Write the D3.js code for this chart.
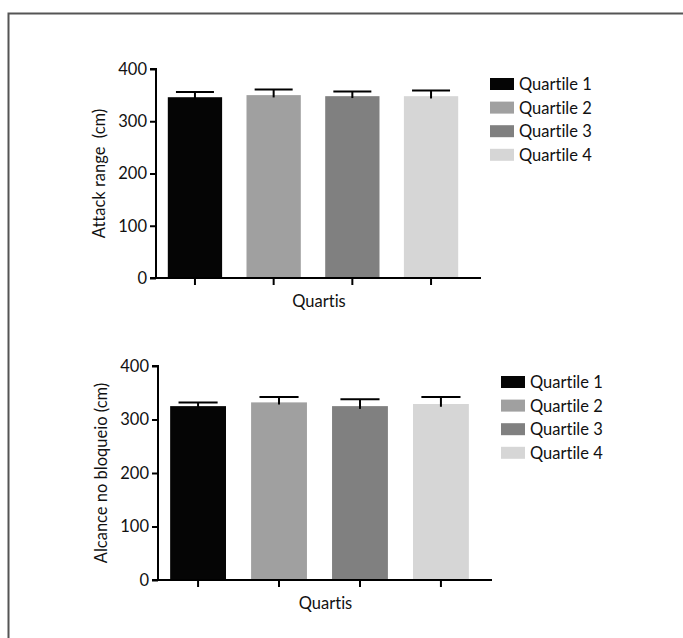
<!DOCTYPE html>
<html lang="en">
<head>
<meta charset="utf-8">
<title>Quartis</title>
<script src="https://cdn.jsdelivr.net/npm/d3@7"></script>
<style>
  body { margin: 0; background: #fff; }
  text { font-family: Lato, "Open Sans", sans-serif; fill: #111; font-variant-ligatures: none; font-feature-settings: "liga" 0; }
</style>
</head>
<body>
<script>
// data
var quartiles = ["Quartile 1", "Quartile 2", "Quartile 3", "Quartile 4"];
var colors = ["#050505", "#a0a0a0", "#808080", "#d6d6d6"];
var attackMean = [346, 350, 348, 348];
var attackSd = [10, 11, 9, 11];
var blockMean = [325, 332, 325, 329];
var blockSd = [7, 10, 13, 13];
var yTicks = [0, 100, 200, 300, 400];

var w = 683, h = 638;
var fs = "16.5px";
var svg = d3.select("body").append("svg")
    .attr("width", w)
    .attr("height", h);

// frame
svg.append("path")
    .attr("d", "M8.5," + h + "V13.5H" + w)
    .attr("fill", "none")
    .attr("stroke", "#555")
    .attr("stroke-width", 2);

function panel(top, left, bottom, right, means, sds, ylabel, legX, legY) {
    var y = d3.scaleLinear().domain([0, 400]).range([bottom, top]);
    var x = d3.scaleBand().domain(quartiles).range([left, right]).paddingInner(0.31).paddingOuter(0.15);

    var g = svg.append("g");

    g.selectAll("rect.bar")
        .data(quartiles)
        .enter().append("rect")
        .attr("class", "bar")
        .attr("x", function(d) { return x(d); })
        .attr("width", x.bandwidth())
        .attr("y", function(d, i) { return y(means[i]); })
        .attr("height", function(d, i) { return y(0) - y(means[i]); })
        .attr("fill", function(d, i) { return colors[i]; });

    // error bars (upper half)
    var eb = g.selectAll("g.err")
        .data(quartiles)
        .enter().append("g")
        .attr("class", "err");
    eb.append("line")
        .attr("x1", function(d) { return x(d) + x.bandwidth() / 2; })
        .attr("x2", function(d) { return x(d) + x.bandwidth() / 2; })
        .attr("y1", function(d, i) { return y(means[i] - sds[i] * 0.4); })
        .attr("y2", function(d, i) { return y(means[i] + sds[i]); })
        .attr("stroke", "#000").attr("stroke-width", 2);
    eb.append("line")
        .attr("x1", function(d) { return x(d) + x.bandwidth() * 0.15; })
        .attr("x2", function(d) { return x(d) + x.bandwidth() * 0.85; })
        .attr("y1", function(d, i) { return y(means[i] + sds[i]); })
        .attr("y2", function(d, i) { return y(means[i] + sds[i]); })
        .attr("stroke", "#000").attr("stroke-width", 2);

    // y axis
    var ya = g.append("g")
        .attr("transform", "translate(" + left + ",0)")
        .call(d3.axisLeft(y).tickValues(yTicks).tickSize(6).tickPadding(3));
    ya.selectAll("text").style("font-size", fs).attr("fill", "#111");
    ya.selectAll("line, path").attr("stroke", "#000").attr("stroke-width", 2);
    ya.select(".domain").attr("d", "M-6," + y(400) + "H0V" + y(0) + "H-6");

    // x axis
    var xa = g.append("g")
        .attr("transform", "translate(0," + bottom + ")")
        .call(d3.axisBottom(x).tickSize(7).tickFormat(""));
    xa.selectAll("line, path").attr("stroke", "#000").attr("stroke-width", 2);
    xa.select(".domain").attr("d", "M" + left + ",0H" + (right + 11));

    g.append("text")
        .attr("x", (left + right) / 2 + 6)
        .attr("y", bottom + 29)
        .attr("text-anchor", "middle")
        .style("font-size", fs)
        .text("Quartis");

    g.append("text")
        .attr("transform", "translate(" + (left - 51) + "," + ((top + bottom) / 2) + ") rotate(-90)")
        .attr("text-anchor", "middle")
        .style("font-size", fs)
        .text(ylabel);

    // legend
    var lg = g.selectAll("g.leg")
        .data(quartiles)
        .enter().append("g")
        .attr("class", "leg")
        .attr("transform", function(d, i) { return "translate(" + legX + "," + (legY + i * 23.6) + ")"; });
    lg.append("rect")
        .attr("width", 24).attr("height", 12)
        .attr("fill", function(d, i) { return colors[i]; });
    lg.append("text")
        .attr("x", 29).attr("y", 12)
        .style("font-size", fs)
        .text(function(d) { return d; });
}

panel(69, 156, 278, 470, attackMean, attackSd, "Attack range\u00a0 (cm)", 490, 78);
panel(366, 158, 580, 481, blockMean, blockSd, "Alcance no bloqueio (cm)", 501, 376);
</script>
</body>
</html>
